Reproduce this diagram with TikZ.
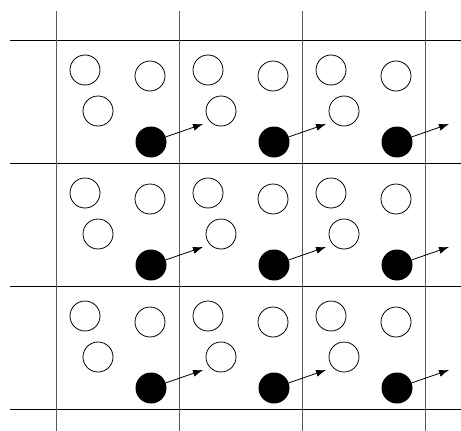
\documentclass[tikz,border=0pt]{standalone}
\usepackage{tikz}
\usetikzlibrary{arrows.meta}

\begin{document}
\begin{tikzpicture}[x=1pt,y=-1pt,
  site/.style={circle, draw, line width=0.8pt, minimum size=30pt, inner sep=0pt},
  carrier/.style={circle, fill=black, minimum size=31pt, inner sep=0pt},
  hopline/.style={line width=0.8pt, -{Latex[length=10pt,width=7pt]}}]
\useasboundingbox (0,0) rectangle (461,431);

% Horizontal lines
\foreach \k [count=\n] in {40,163,286,409} {
  \coordinate (hl\n) at (10,\k);
  \coordinate (hr\n) at (461,\k);
  \draw[line width=0.9pt] (hl\n) -- (hr\n);
}

% Vertical lines
\foreach \k [count=\n] in {56,179,302,425} {
  \coordinate (vt\n) at (\k,11);
  \coordinate (vb\n) at (\k,431);
  \draw[line width=1pt, black!65] (vt\n) -- (vb\n);
}

% Cells: three empty sites, one filled site hopping right
\foreach \i in {0,1,2} {
  \foreach \j in {0,1,2} {
    \node[site] (s-\i-\j-1) at ({56+123*\i+29},{40+123*\j+30}) {};
    \node[site] (s-\i-\j-2) at ({56+123*\i+94},{40+123*\j+36}) {};
    \node[site] (s-\i-\j-3) at ({56+123*\i+42},{40+123*\j+71}) {};
    \node[carrier] (c-\i-\j) at ({56+123*\i+95},{40+123*\j+102}) {};
    \coordinate (t-\i-\j) at ({56+123*\i+147},{40+123*\j+84});
    \draw[hopline] (c-\i-\j) -- (t-\i-\j);
  }
}

\end{tikzpicture}
\end{document}
